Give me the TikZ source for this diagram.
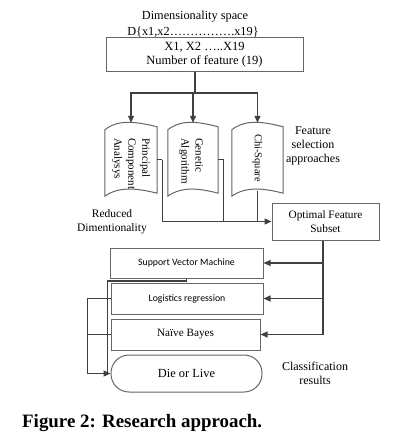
\documentclass[tikz,border=0pt]{standalone}
\usepackage{fontspec}
\setmainfont{Liberation Serif}
\newfontfamily\sansf{Carlito}
\usetikzlibrary{arrows.meta,calc}
\begin{document}
\begin{tikzpicture}[x=1pt,y=-1pt,
  conn/.style={draw=black!75, line width=1.1pt},
  arr/.style={conn, -{Triangle[length=7pt,width=6pt]}},
  boxed/.style={draw=black!60, line width=1pt, rectangle, inner sep=0pt, align=center},
  docbox/.style={rectangle, inner sep=0pt},
  docline/.style={draw=black!60, line width=1pt},
  lbl/.style={font=\fontsize{12}{14}\selectfont, align=center, inner sep=0pt},
  doctext/.style={font=\fontsize{11}{14}\selectfont, align=left, inner sep=0pt, rotate=-90, anchor=west}
]
\useasboundingbox (0,0) rectangle (415,444);

% title
\node[lbl, font=\fontsize{12.3}{14}\selectfont] (dimsp) at (195,17) {Dimensionality space};
\node[lbl, font=\fontsize{12.3}{14}\selectfont] (dset) at (193,32) {D\{x1,x2…………….x19\}};

% top box
\node[boxed, minimum width=197pt, minimum height=33pt,
      font=\fontsize{12.5}{14}\selectfont] (top) at (204.5,54.5) {X1, X2 …..X19\\Number of feature (19)};

% documents
\node[docbox, minimum width=52pt, minimum height=73pt] (pca) at (131,159.5) {};
\node[docbox, minimum width=50pt, minimum height=73pt] (ga) at (193,159.5) {};
\node[docbox, minimum width=51pt, minimum height=73pt] (chi) at (257.5,159.5) {};
\foreach \n in {pca,ga,chi}{
  \draw[docline] ($(\n.north west)+(0,7)$)
     .. controls ($(\n.north west)+(14,-4)$) and ($(\n.north)+(6,-1)$) .. ($(\n.north east)+(0,4)$)
     -- ($(\n.south east)+(0,-3)$)
     .. controls ($(\n.south)+(6,-8)$) and ($(\n.south west)+(14,-10)$) .. (\n.south west)
     -- cycle;
}
\node[doctext] (pcat) at ($(pca.north)+(0,15)$) {Principal\\Component\\Analysys};
\node[doctext] (gat) at ($(ga.north)+(-2,15)$) {Genetic\\Algorithm};
\node[doctext, font=\fontsize{10.5}{13}\selectfont] (chit) at ($(chi.north)+(0,11)$) {Chi-Square};

\node[lbl] (fsa) at (313,146) {Feature\\selection\\approaches};
\node[lbl, font=\fontsize{11.5}{14}\selectfont] (red) at (112,222) {Reduced\\Dimentionality};

% optimal subset
\node[boxed, minimum width=107pt, minimum height=37pt,
      font=\fontsize{11.3}{14.5}\selectfont] (opt) at (325.5,221.5) {Optimal Feature\\Subset};

% classifiers
\node[boxed, minimum width=153pt, minimum height=30pt, font=\sansf\fontsize{9.8}{12}\selectfont] (svm) at (186.5,263) {Support Vector Machine};
\node[boxed, minimum width=152pt, minimum height=31pt, font=\sansf\fontsize{9.8}{12}\selectfont] (lr) at (187,298.5) {Logistics regression};
\node[boxed, minimum width=149pt, minimum height=31pt, font=\fontsize{11.2}{13}\selectfont] (nb) at (185.5,334.5) {Naïve Bayes};
\node[boxed, minimum width=151pt, minimum height=37pt, rounded corners=18pt, font=\fontsize{12.4}{14}\selectfont] (die) at (186.5,373.5) {Die or Live};

\node[lbl] (cls) at (315,373) {Classification\\results};

% connectors
\coordinate (split) at (195,93);
\draw[conn] (split |- top.south) -- (split);
\draw[arr] (split) -| (pca.north);
\draw[arr] (split) -| (ga.north);
\draw[arr] (split) -| (chi.north);

\draw[conn] (pca.east) -- ++(5,0) coordinate (pcaj);
\draw[arr] (pcaj) |- (opt.west);
\draw[conn] (ga.east) -- ++(5,0) coordinate (gaj) -- (gaj |- opt.west);
\coordinate (chij) at ($(chi.south)+(0,-5)$);
\draw[conn] (chij) -- (chij |- opt.west);

\coordinate (optj) at ($(opt.south)+(-2.5,0)$);
\draw[arr] (optj) |- (svm.east);
\draw[arr] (optj) |- (lr.east);
\draw[arr] (optj) |- (nb.east);

\coordinate (svmj) at ($(die.west)+(-3,0)$);
\draw[conn] (svm.south) -- ++(0,2.5) -| (svmj);
\coordinate (lj) at ($(lr.west)+(-23,0)$);
\draw[arr] (lr.west) -- (lj) |- (die.west);
\draw[conn] (nb.west) -- (nb.west -| lj);

% caption
\node[anchor=west, inner sep=0pt, font=\bfseries\fontsize{18.9}{22}\selectfont] (cap) at (22,423) {Figure 2: Research approach.};
\end{tikzpicture}
\end{document}
